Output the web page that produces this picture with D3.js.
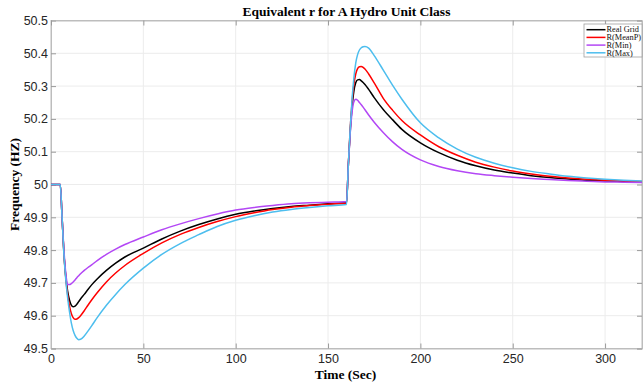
<!DOCTYPE html>
<html>
<head>
<meta charset="UTF-8" />
<script src="https://d3js.org/d3.v7.min.js"></script>
<style>
  body { margin: 0; background: #fff; }
  svg { display: block; }
</style>
</head>
<body>
<div id="chart"></div>
<script>
// time samples (sec)
const time = [0, 5, 6, 7, 8, 9, 10, 11, 12, 13, 14, 15, 16, 18, 20, 22, 25, 30, 35, 40,
  50, 60, 70, 80, 90, 100, 110, 120, 130, 140, 150,
  160, 161, 162, 163, 164, 165, 166, 167, 168, 169, 170, 172, 175, 180, 185, 190,
  200, 210, 220, 230, 240, 250, 260, 270, 280, 290, 300, 310, 320]

const realGrid = [50, 50, 49.9, 49.79, 49.72, 49.675, 49.648, 49.632, 49.627, 49.629, 49.635, 49.643, 49.651, 49.665, 49.68, 49.694, 49.712, 49.738, 49.76, 49.779,
  49.806, 49.834, 49.858, 49.878, 49.895, 49.909, 49.919, 49.927, 49.933, 49.937, 49.941,
  49.944, 50.06, 50.16, 50.235, 50.285, 50.31, 50.319, 50.32, 50.316, 50.311, 50.305, 50.29, 50.265, 50.228, 50.197, 50.168,
  50.127, 50.097, 50.074, 50.057, 50.044, 50.035, 50.027, 50.021, 50.017, 50.013, 50.011, 50.009, 50.007]

const rMeanP = [50, 50, 49.9, 49.79, 49.715, 49.665, 49.63, 49.607, 49.594, 49.589, 49.59, 49.594, 49.6, 49.615, 49.632, 49.648, 49.67, 49.703, 49.73, 49.753,
  49.79, 49.822, 49.848, 49.869, 49.887, 49.902, 49.914, 49.924, 49.931, 49.936, 49.94,
  49.943, 50.06, 50.17, 50.25, 50.305, 50.337, 50.353, 50.359, 50.36, 50.357, 50.352, 50.337, 50.31, 50.262, 50.226, 50.195,
  50.151, 50.115, 50.089, 50.068, 50.053, 50.041, 50.032, 50.025, 50.02, 50.016, 50.013, 50.011, 50.009]

const rMin = [50, 50, 49.9, 49.8, 49.73, 49.695, 49.695, 49.698, 49.703, 49.709, 49.716, 49.722, 49.728, 49.738, 49.747, 49.755, 49.768, 49.787, 49.803, 49.817,
  49.84, 49.862, 49.88, 49.896, 49.91, 49.922, 49.93, 49.936, 49.941, 49.944, 49.946,
  49.948, 50.06, 50.155, 50.22, 50.252, 50.26, 50.257, 50.25, 50.243, 50.236, 50.228, 50.212, 50.19, 50.158, 50.13, 50.107,
  50.075, 50.055, 50.042, 50.033, 50.027, 50.022, 50.018, 50.015, 50.012, 50.01, 50.008, 50.007, 50.006]

const rMax = [50, 50, 49.9, 49.785, 49.71, 49.655, 49.612, 49.578, 49.555, 49.54, 49.531, 49.527, 49.528, 49.538, 49.553, 49.569, 49.594, 49.632, 49.665, 49.695,
  49.745, 49.787, 49.82, 49.847, 49.872, 49.891, 49.905, 49.916, 49.924, 49.93, 49.935,
  49.939, 50.06, 50.17, 50.26, 50.325, 50.37, 50.396, 50.41, 50.417, 50.42, 50.421, 50.416, 50.393, 50.348, 50.302, 50.26,
  50.188, 50.142, 50.108, 50.083, 50.065, 50.051, 50.04, 50.032, 50.025, 50.02, 50.016, 50.013, 50.011]

const seriesNames = ['Real Grid', 'R(MeanP)', 'R(Min)', 'R(Max)']
const seriesColors = ['#000000', '#ff0000', '#b347f5', '#4dbeee']
const seriesValues = [realGrid, rMeanP, rMin, rMax]

const xTicks = [0, 50, 100, 150, 200, 250, 300]
const yTicks = [49.5, 49.6, 49.7, 49.8, 49.9, 50, 50.1, 50.2, 50.3, 50.4, 50.5]

const W = 643, H = 384
const margin = { top: 20.5, right: 1, bottom: 35.5, left: 51 }
const width = W - margin.left - margin.right
const height = H - margin.top - margin.bottom

const svg = d3.select('#chart').append('svg')
  .attr('width', W).attr('height', H)

const g = svg.append('g')
  .attr('transform', `translate(${margin.left}, ${margin.top})`)

const x = d3.scaleLinear().domain([0, 320]).range([0, width])
const y = d3.scaleLinear().domain([49.5, 50.5]).range([height, 0])

// grid
g.append('g').selectAll('line').data(xTicks.slice(1)).join('line')
  .attr('x1', d => x(d)).attr('x2', d => x(d))
  .attr('y1', 0).attr('y2', height)
  .attr('stroke', '#ececec').attr('stroke-width', 1)
g.append('g').selectAll('line').data(yTicks.slice(1, -1)).join('line')
  .attr('x1', 0).attr('x2', width)
  .attr('y1', d => y(d)).attr('y2', d => y(d))
  .attr('stroke', '#ececec').attr('stroke-width', 1)

// box
g.append('rect')
  .attr('width', width).attr('height', height)
  .attr('fill', 'none').attr('stroke', '#bdbdbd').attr('stroke-width', 1)

// axes (ticks inward, matlab style)
g.append('g')
  .attr('transform', `translate(0, ${height})`)
  .call(d3.axisBottom(x).tickValues(xTicks).tickSize(-5).tickPadding(6))
g.append('g')
  .call(d3.axisLeft(y).tickValues(yTicks).tickSize(-5).tickPadding(3)
    .tickFormat(d => d3.format('')(+d.toFixed(1))))
g.append('g')
  .call(d3.axisTop(x).tickValues(xTicks).tickSize(-5).tickFormat(''))
g.append('g').attr('transform', `translate(${width}, 0)`)
  .call(d3.axisRight(y).tickValues(yTicks).tickSize(-5).tickFormat(''))

g.selectAll('.domain').attr('stroke', '#bdbdbd')
g.selectAll('.tick line').attr('stroke', '#9a9a9a')
g.selectAll('.tick text')
  .attr('fill', '#262626')
  .style('font-family', 'Liberation Sans, Arial, sans-serif')
  .style('font-size', '12.5px')

// lines
g.append('clipPath').attr('id', 'clip')
  .append('rect').attr('width', width).attr('height', height)

const line = d3.line().curve(d3.curveMonotoneX)
  .x((d, i) => x(time[i]))
  .y(d => y(d))

g.append('g').attr('clip-path', 'url(#clip)')
  .selectAll('path').data(seriesValues).join('path')
  .attr('d', d => line(d))
  .attr('fill', 'none')
  .attr('stroke', (d, i) => seriesColors[i])
  .attr('stroke-width', 1.5)

// title and labels
const serif = 'Liberation Serif, Times New Roman, serif'
svg.append('text')
  .attr('x', margin.left + width / 2).attr('y', 16)
  .attr('text-anchor', 'middle')
  .style('font-family', serif).style('font-weight', 'bold').style('font-size', '13.5px')
  .text('Equivalent r for A Hydro Unit Class')

svg.append('text')
  .attr('x', margin.left + width / 2 - 1).attr('y', 379)
  .attr('text-anchor', 'middle')
  .style('font-family', serif).style('font-weight', 'bold').style('font-size', '13.5px')
  .text('Time (Sec)')

svg.append('text')
  .attr('transform', `translate(19, ${margin.top + height / 2}) rotate(-90)`)
  .attr('text-anchor', 'middle')
  .style('font-family', serif).style('font-weight', 'bold').style('font-size', '13.5px')
  .text('Frequency (HZ)')

// legend
const legend = svg.append('g').attr('transform', 'translate(584, 24)')
legend.append('rect')
  .attr('width', 58).attr('height', 33)
  .attr('fill', '#fff').attr('stroke', '#a0a0a0').attr('stroke-width', 0.8)
const items = legend.selectAll('g').data(seriesNames).join('g')
  .attr('transform', (d, i) => `translate(0, ${5.7 + i * 7.7})`)
items.append('line')
  .attr('x1', 2.5).attr('x2', 21.5)
  .attr('stroke', (d, i) => seriesColors[i]).attr('stroke-width', 1.5)
items.append('text')
  .attr('x', 22.5).attr('dy', '0.33em')
  .style('font-family', serif).style('font-size', '8.3px').attr('fill', '#111')
  .text(d => d)
</script>
</body>
</html>
